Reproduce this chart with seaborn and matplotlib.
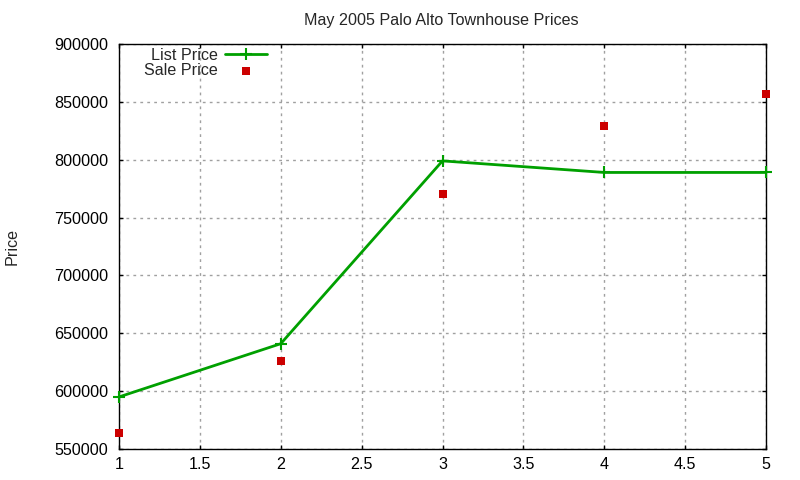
import matplotlib
matplotlib.use("Agg")
import matplotlib.pyplot as plt
import seaborn as sns
import pandas as pd

x_vals = [1, 2, 3, 4, 5]
list_price = [595000, 641000, 799000, 789000, 789000]
sale_price = [564000, 626000, 770000, 829000, 857000]
x_ticks = [1, 1.5, 2, 2.5, 3, 3.5, 4, 4.5, 5]
x_tick_labels = ["1", "1.5", "2", "2.5", "3", "3.5", "4", "4.5", "5"]
y_ticks = [550000, 600000, 650000, 700000, 750000, 800000, 850000, 900000]
y_tick_labels = [str(v) for v in y_ticks]

sns.set_style("ticks")
plt.rcParams['font.family'] = ['Liberation Sans', 'DejaVu Sans']
FS = 11.6
plt.rcParams['font.size'] = FS

df_list = pd.DataFrame({"x": x_vals, "y": list_price})
df_sale = pd.DataFrame({"x": x_vals, "y": sale_price})

fig = plt.figure(figsize=(8, 4.8), dpi=100)
ax = fig.add_axes([0.14875, 0.0646, 0.80875, 0.8437])

green = "#00a000"
red = "#cc0000"

sns.lineplot(data=df_list, x="x", y="y", ax=ax, color=green, linewidth=2,
             marker="+", markersize=9, markeredgewidth=1.5, markeredgecolor=green,
             label="List Price", zorder=3, clip_on=False)
sns.scatterplot(data=df_sale, x="x", y="y", ax=ax, color=red, marker="s", s=36,
                edgecolor=red, linewidth=0, label="Sale Price", zorder=4, clip_on=False)

ax.set_xlim(1, 5)
ax.set_ylim(550000, 900000)
ax.set_xticks(x_ticks)
ax.set_xticklabels(x_tick_labels)
ax.set_yticks(y_ticks)
ax.set_yticklabels(y_tick_labels)
ax.grid(True, color="#a0a0a0", linestyle=(0, (2, 3)), linewidth=1)
ax.tick_params(direction="in", top=True, right=True, length=3, width=1, labelsize=FS,
               colors="black")
ax.tick_params(axis="y", pad=7.5)
ax.tick_params(axis="x", pad=5.5)
for s in ax.spines.values():
    s.set_color("black")
    s.set_linewidth(1)
ax.set_xlabel("")
ax.set_ylabel("Price", fontsize=FS)
ax.yaxis.set_label_coords(-(119 - 20) / 647, 0.5)
fig.text(441 / 800, 1 - 20 / 480, "May 2005 Palo Alto Townhouse Prices",
         ha="center", va="center", fontsize=FS)

leg = ax.legend(loc="upper right", bbox_to_anchor=(267 / 800, 1 - 48 / 480),
                bbox_transform=fig.transFigure, frameon=False, markerfirst=False,
                handlelength=2.6, handletextpad=0.45, labelspacing=0.03,
                borderaxespad=0, borderpad=0, fontsize=FS)
for t in leg.get_texts():
    t.set_ha("right")

fig.savefig("out.png", dpi=100)
